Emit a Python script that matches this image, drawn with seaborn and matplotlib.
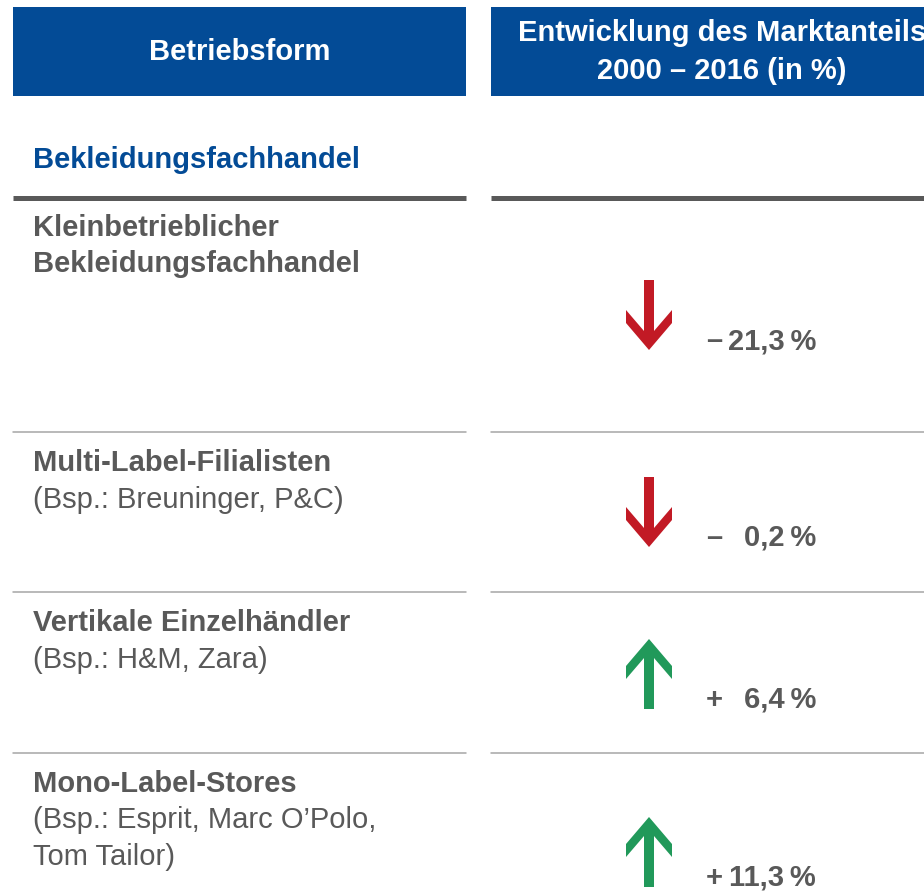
import matplotlib.pyplot as plt
import seaborn as sns

sns.set_theme(style="white")
plt.rcParams['font.family'] = ['Liberation Sans', 'DejaVu Sans']

# Table content
header_left = "Betriebsform"
header_right = ["Entwicklung des Marktanteils", "2000 – 2016 (in %)"]
section = "Bekleidungsfachhandel"
name_lines = [["Kleinbetrieblicher", "Bekleidungsfachhandel"],
              ["Multi-Label-Filialisten"],
              ["Vertikale Einzelhändler"],
              ["Mono-Label-Stores"]]
example_lines = [[],
                 ["(Bsp.: Breuninger, P&C)"],
                 ["(Bsp.: H&M, Zara)"],
                 ["(Bsp.: Esprit, Marc O’Polo,", "Tom Tailor)"]]
changes = [-21.3, -0.2, 6.4, 11.3]

# Layout (pixel coordinates)
blue = "#034B96"
gray = "#595959"
red = "#C21A25"
green = "#21995A"
row_tops = [197, 432, 592, 753]
arrow_tops = [280, 477, 639, 817]
fs = 21
line_h = 36.5

fig = plt.figure(figsize=(9.24, 8.91), dpi=100)
ax = fig.add_axes([0, 0, 1, 1])
ax.set_xlim(0, 924)
ax.set_ylim(891, 0)
ax.axis('off')

# header boxes
ax.add_patch(plt.Rectangle((13, 7), 453, 89, color=blue, lw=0))
ax.add_patch(plt.Rectangle((491, 7), 460, 89, color=blue, lw=0))
ax.text(239.5, 52, header_left, color='white', fontsize=fs, fontweight='bold',
        ha='center', va='center')
ax.text(722, 33, header_right[0], color='white', fontsize=fs, fontweight='bold',
        ha='center', va='center')
ax.text(722, 71, header_right[1], color='white', fontsize=fs, fontweight='bold',
        ha='center', va='center')

ax.text(33, 168, section, color=blue, fontsize=fs, fontweight='bold',
        ha='left', va='baseline')

# separator lines
ax.plot([13, 466], [197.5, 197.5], color=gray, lw=3.6, solid_capstyle='butt')
ax.plot([491, 924], [197.5, 197.5], color=gray, lw=3.6, solid_capstyle='butt')
for top in row_tops[1:]:
    ax.plot([13, 466], [top, top], color="#A6A6A6", lw=1.1)
    ax.plot([491, 924], [top, top], color="#A6A6A6", lw=1.1)

# row labels
for i, top in enumerate(row_tops):
    y = top + 39
    for line in name_lines[i]:
        ax.text(33, y, line, color=gray, fontsize=fs, fontweight='bold',
                ha='left', va='baseline')
        y += line_h
    for line in example_lines[i]:
        ax.text(33, y, line, color=gray, fontsize=fs, ha='left', va='baseline')
        y += line_h

# arrows and values
cx = 649
shape = [(-5, 0), (5, 0), (5, 51), (23, 30), (23, 43), (0, 70),
         (-23, 43), (-23, 30), (-5, 51)]
for v, t in zip(changes, arrow_tops):
    if v < 0:
        xs = [cx + dx for dx, dy in shape]
        ys = [t + dy for dx, dy in shape]
        col = red
        sign = "–"
    else:
        xs = [cx + dx for dx, dy in shape]
        ys = [t + 70 - dy for dx, dy in shape]
        col = green
        sign = "+"
    ax.fill(xs, ys, color=col, lw=0)
    label = f"{abs(v):.1f}".replace('.', ',') + "\u2009%"
    ax.text(706, t + 61, sign, color=gray, fontsize=fs, fontweight='bold',
            ha='left', va='center')
    ax.text(816, t + 61, label, color=gray, fontsize=fs, fontweight='bold',
            ha='right', va='center')

plt.savefig('out.png', dpi=100, facecolor='white')
plt.close()
